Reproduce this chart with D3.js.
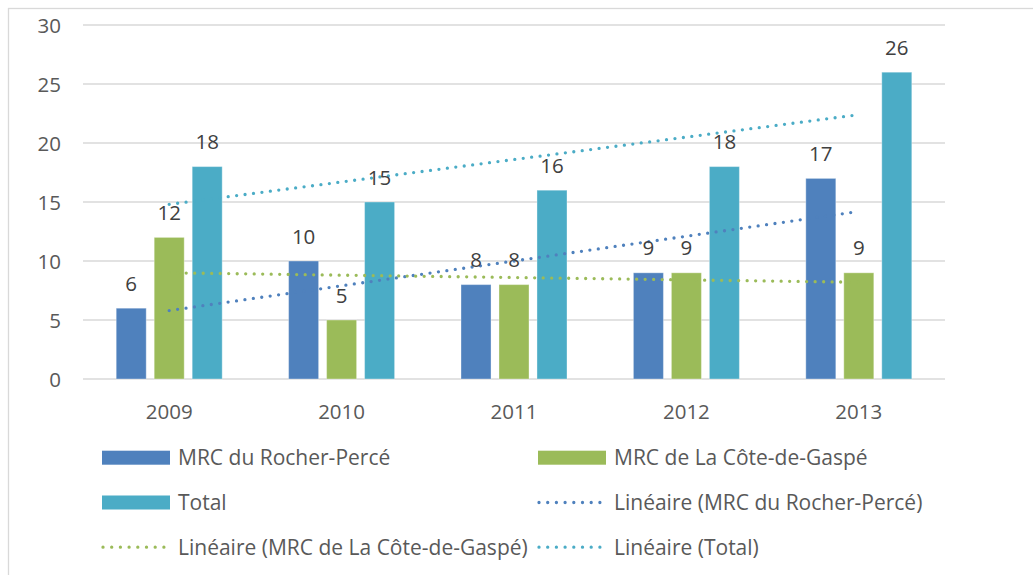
<!DOCTYPE html>
<html>
<head>
<meta charset="utf-8">
<script src="https://cdn.jsdelivr.net/npm/d3@7"></script>
<style>
  body { margin: 0; background: #fff; }
  svg { display: block; font-family: "Open Sans", sans-serif; }
</style>
</head>
<body>
<div id="main"></div>
<script>
const years = ["2009", "2010", "2011", "2012", "2013"];
const seriesNames = ["MRC du Rocher-Percé", "MRC de La Côte-de-Gaspé", "Total"];
const rocherPerce = [6, 10, 8, 9, 17];
const coteGaspe = [12, 5, 8, 9, 9];
const total = [18, 15, 16, 18, 26];
const yTicks = [0, 5, 10, 15, 20, 25, 30];

const ctx = {
    w: 1033,
    h: 575,
    left: 83,
    right: 945,
    top: 25,
    bottom: 379,
    colors: ["#4F81BD", "#9BBB59", "#4BACC6"],
    grid: "#D9D9D9",
    FONT_AXIS: 20.5,
    FONT_LEGEND: 21,
};

const values = [rocherPerce, coteGaspe, total];

// least squares fit over x = 1..n, like Excel's linear trendline
function linearFit(ys){
    const xs = ys.map((d, i) => i + 1);
    const mx = d3.mean(xs), my = d3.mean(ys);
    let num = 0, den = 0;
    xs.forEach((x, i) => { num += (x - mx) * (ys[i] - my); den += (x - mx) * (x - mx); });
    const slope = num / den;
    return xs.map(x => my + slope * (x - mx));
}

const svg = d3.select("#main").append("svg")
    .attr("width", ctx.w).attr("height", ctx.h);

// chart frame
svg.append("rect")
    .attr("x", 8.5).attr("y", 8.5)
    .attr("width", 1200).attr("height", 800)
    .attr("fill", "none").attr("stroke", ctx.grid).attr("stroke-width", 1.3);

const x0 = d3.scaleBand().domain(years).range([ctx.left, ctx.right]).padding(0);
const x1 = d3.scaleBand().domain(d3.range(3)).range([0, x0.bandwidth()])
    .paddingInner(0.21).paddingOuter(0.874);
const y = d3.scaleLinear().domain([0, 30]).range([ctx.bottom, ctx.top]);

// gridlines
svg.append("g").selectAll("line")
    .data(yTicks).enter().append("line")
    .attr("x1", ctx.left).attr("x2", ctx.right)
    .attr("y1", d => y(d)).attr("y2", d => y(d))
    .attr("stroke", ctx.grid).attr("stroke-width", 1.3);

// y tick labels
svg.append("g").selectAll("text")
    .data(yTicks).enter().append("text")
    .attr("x", 61).attr("y", d => y(d) + 7.5)
    .attr("text-anchor", "end")
    .attr("font-size", ctx.FONT_AXIS).attr("fill", "#595959")
    .text(d => d);

// x labels
svg.append("g").selectAll("text")
    .data(years).enter().append("text")
    .attr("x", d => x0(d) + x0.bandwidth() / 2).attr("y", 418.5)
    .attr("text-anchor", "middle")
    .attr("font-size", ctx.FONT_AXIS).attr("fill", "#595959")
    .text(d => d);

// bars
const barData = [];
values.forEach((vals, s) => vals.forEach((v, i) => barData.push({s: s, year: years[i], v: v})));

svg.append("g").selectAll("rect")
    .data(barData).enter().append("rect")
    .attr("x", d => x0(d.year) + x1(d.s))
    .attr("width", x1.bandwidth())
    .attr("y", d => y(d.v))
    .attr("height", d => y(0) - y(d.v))
    .attr("fill", d => ctx.colors[d.s])
    .attr("stroke", "rgba(255,255,255,0.35)").attr("stroke-width", 1);

// trendlines
const line = d3.line()
    .x((d, i) => x0(years[i]) + x0.bandwidth() / 2)
    .y(d => y(d));

svg.append("g").selectAll("path")
    .data(values.map(linearFit)).enter().append("path")
    .attr("d", d => line(d))
    .attr("fill", "none")
    .attr("stroke", (d, i) => ctx.colors[i])
    .attr("stroke-width", 3.3)
    .attr("stroke-linecap", "round")
    .attr("stroke-dasharray", "0 8.5");

// value labels
svg.append("g").selectAll("text")
    .data(barData).enter().append("text")
    .attr("x", d => x0(d.year) + x1(d.s) + x1.bandwidth() / 2)
    .attr("y", d => y(d.v) - 17.5)
    .attr("text-anchor", "middle")
    .attr("font-size", ctx.FONT_AXIS).attr("fill", "#404040")
    .text(d => d.v);

// legend
const legendItems = [
    {label: seriesNames[0], c: 0, type: "bar"},
    {label: seriesNames[1], c: 1, type: "bar"},
    {label: seriesNames[2], c: 2, type: "bar"},
    {label: "Linéaire (" + seriesNames[0] + ")", c: 0, type: "trend"},
    {label: "Linéaire (" + seriesNames[1] + ")", c: 1, type: "trend"},
    {label: "Linéaire (" + seriesNames[2] + ")", c: 2, type: "trend"},
];
const colX = [102, 538];
const rowY = [457.7, 502.5, 547.2];

const leg = svg.append("g").selectAll("g")
    .data(legendItems).enter().append("g")
    .attr("transform", (d, i) => "translate(" + colX[i % 2] + "," + rowY[Math.floor(i / 2)] + ")");

leg.filter(d => d.type === "bar").append("rect")
    .attr("x", 0).attr("y", -7).attr("width", 68).attr("height", 14)
    .attr("fill", d => ctx.colors[d.c]);

leg.filter(d => d.type === "trend").append("line")
    .attr("x1", 1).attr("x2", 68).attr("y1", 0).attr("y2", 0)
    .attr("stroke", d => ctx.colors[d.c])
    .attr("stroke-width", 3.3)
    .attr("stroke-linecap", "round")
    .attr("stroke-dasharray", "0 8.7");

leg.append("text")
    .attr("x", 76).attr("y", 7.5)
    .attr("font-size", ctx.FONT_LEGEND).attr("fill", "#595959")
    .text(d => d.label);
</script>
</body>
</html>
